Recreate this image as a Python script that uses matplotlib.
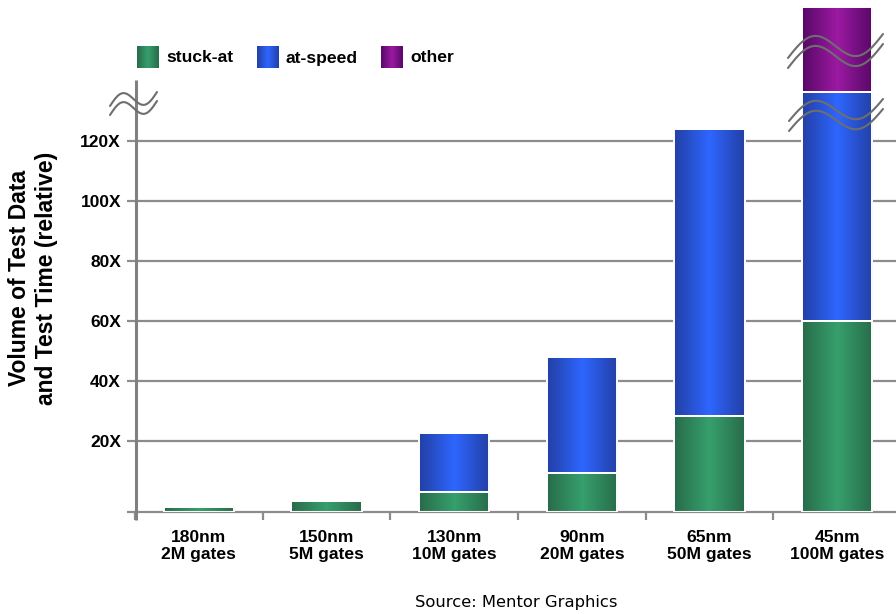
import numpy as np
import matplotlib.pyplot as plt
from matplotlib.colors import LinearSegmentedColormap

# technology nodes along the x axis
nodes = ['180nm\n2M gates', '150nm\n5M gates', '130nm\n10M gates',
         '90nm\n20M gates', '65nm\n50M gates', '45nm\n100M gates']

stuck_at = [1.7, 3.7, 6.7, 13.0, 32.0, 63.7]
at_speed = [0.0, 0.0, 19.7, 38.7, 95.7, 76.3]
other = [0.0, 0.0, 0.0, 0.0, 0.0, 28.3]

series = ['stuck-at', 'at-speed', 'other']
y_ticks = [20, 40, 60, 80, 100, 120]
floor = -3.7
top = 167.0

# dark edge / light centre of each bar gradient
shades = {
    'stuck-at': ('#286c4a', '#36a06c'),
    'at-speed': ('#2340a6', '#2e66ff'),
    'other': ('#580868', '#9c1aa2'),
}
grey = '#8c8c8c'
bold = dict(family='Liberation Sans', fontweight='bold')


def ramp(name):
    dark, light = shades[name]
    return LinearSegmentedColormap.from_list(name, [dark, light, dark])


grad = np.linspace(0, 1, 64).reshape(1, -1)

fig = plt.figure(figsize=(8.96, 6.14), dpi=100)
ax = fig.add_axes([135 / 896, 102 / 614, 766 / 896, 512 / 614])

x = np.arange(len(nodes))
bottom = np.full(len(nodes), floor)
for name, vals in zip(series, [stuck_at, at_speed, other]):
    vals = np.array(vals)
    bars = ax.bar(x, vals, 0.55, bottom=bottom, color='none',
                  edgecolor='white', linewidth=1.4, zorder=3)
    for b, v in zip(bars, vals):
        if v <= 0:
            continue
        x0, y0 = b.get_x(), b.get_y()
        ax.imshow(grad, cmap=ramp(name), aspect='auto', zorder=2,
                  interpolation='bicubic',
                  extent=[x0, x0 + b.get_width(), y0, y0 + b.get_height()])
    bottom += vals

for v in y_ticks:
    ax.axhline(v, color=grey, lw=1.6, zorder=1)

ax.set_xlim(-0.5, 5.5)
ax.set_ylim(floor, top)
for s in ['top', 'right', 'left']:
    ax.spines[s].set_visible(False)
ax.spines['bottom'].set_color(grey)
ax.spines['bottom'].set_linewidth(1.6)

ax.set_yticks([floor] + y_ticks, [''] + [f'{v}X' for v in y_ticks], fontsize=12.5, **bold)
ax.tick_params(axis='y', length=6, width=1.6, color=grey, pad=4)
ax.set_xticks(x, nodes, fontsize=12.6, **bold)
ax.tick_params(axis='x', which='major', length=0, pad=13)
ax.set_xticks(np.arange(-0.5, 5, 1), minor=True)
ax.tick_params(axis='x', which='minor', length=6, width=1.6, color=grey)

fig.text(33 / 896, 1 - 278 / 614, 'Volume of Test Data\nand Test Time (relative)',
         rotation=90, ha='center', va='center', ma='center', fontsize=16.5, **bold)
fig.text(516 / 896, 1 - 602 / 614, 'Source: Mentor Graphics',
         ha='center', va='center', fontsize=11.8, family='DejaVu Sans')

# overlay in pixel coords for the y axis line, legend and axis-break marks
ov = fig.add_axes([0, 0, 1, 1], zorder=5)
ov.patch.set_alpha(0)
ov.axis('off')

ov.plot([136, 136], [80, 520], color='#808080', lw=2.2, solid_capstyle='butt')

legend_x = [137, 257, 381]
for name, lx in zip(series, legend_x):
    ov.imshow(grad, cmap=ramp(name), aspect='auto', interpolation='bicubic',
              extent=(lx, lx + 22, 68, 46))
    ov.text(lx + 29, 62.5, name, va='baseline', ha='left', fontsize=12.6, **bold)


def squiggle(x0, y0, w, h, gap):
    t = np.linspace(0, 1, 80)
    xs = x0 + w * t
    ys = y0 - h * (t + 0.65 * np.sin(2 * np.pi * t))
    for off in (0, gap):
        ov.plot(xs, ys + off, color='#6e6e6e', lw=1.5, solid_capstyle='round')


squiggle(110, 106, 47, 14, 9)
squiggle(789, 121, 94, 22, 10)
squiggle(788, 58, 95, 24, 10)

ov.set_xlim(0, 896)
ov.set_ylim(614, 0)

fig.savefig('out.png', dpi=100)
